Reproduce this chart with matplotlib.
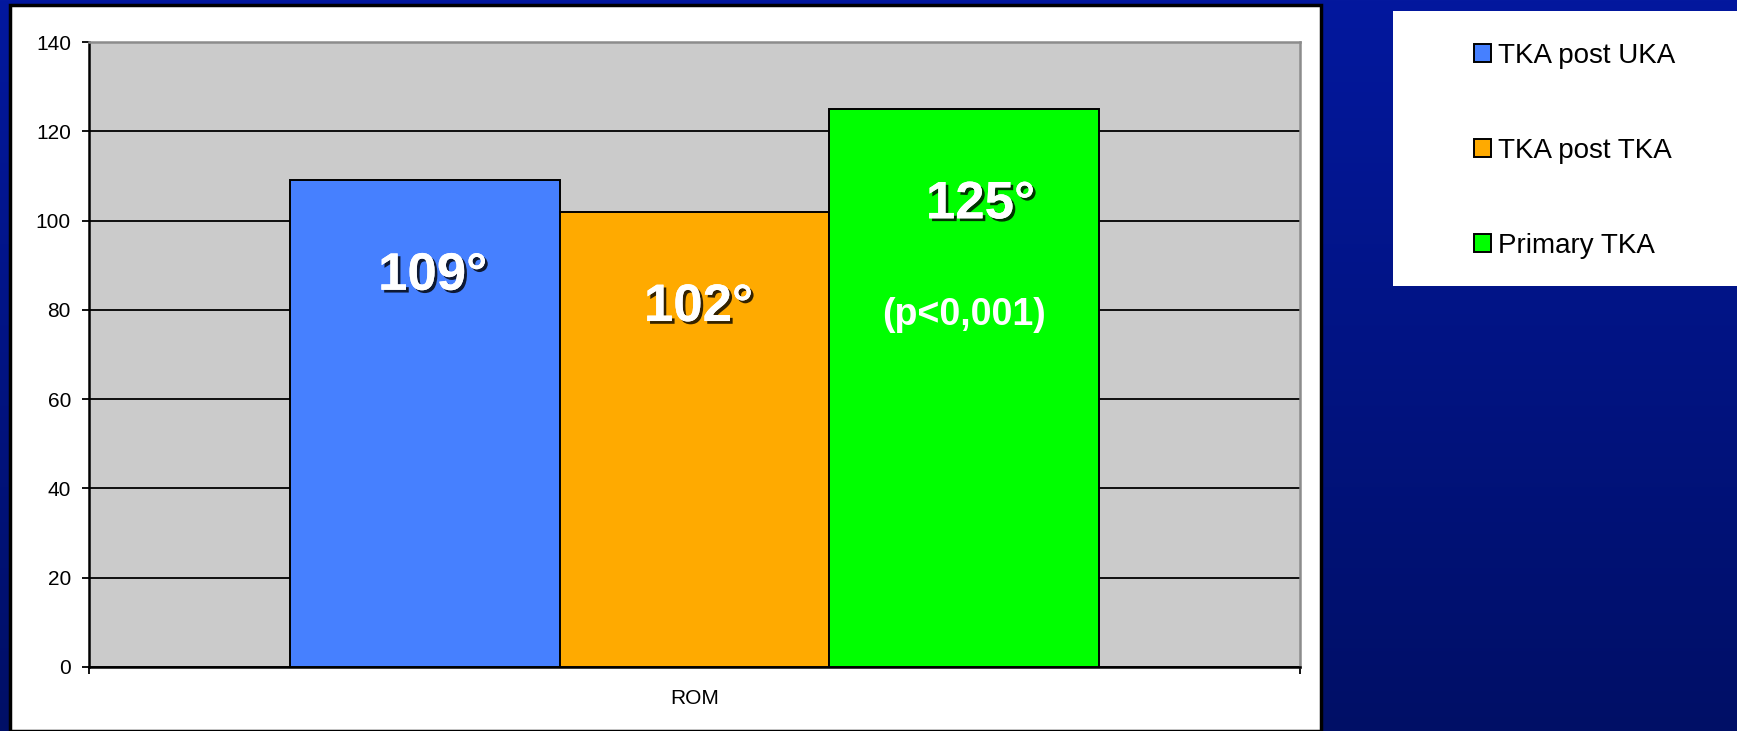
import numpy as np
import matplotlib
matplotlib.use("Agg")
import matplotlib.pyplot as plt
from matplotlib.patches import Rectangle
import matplotlib.patheffects as pe

plt.rcParams["font.family"] = ["Liberation Sans", "DejaVu Sans"]

# Data
category = "ROM"
groups = ["TKA post UKA", "TKA post TKA", "Primary TKA"]
rom_values = [109, 102, 125]
bar_colors = ["#4680FF", "#FFAA00", "#00FF00"]
p_value_text = "(p<0,001)"
y_ticks = [0, 20, 40, 60, 80, 100, 120, 140]

W, H = 1737, 731
fig = plt.figure(figsize=(W / 100, H / 100), dpi=100)

# Slide background: vertical blue gradient
bg = fig.add_axes([0, 0, 1, 1], zorder=-10)
grad = np.linspace(0, 1, 256).reshape(-1, 1)
bg_cmap = matplotlib.colors.LinearSegmentedColormap.from_list(
    "slide", ["#03189E", "#000F66"])
bg.imshow(grad, aspect="auto", cmap=bg_cmap, extent=[0, 1, 0, 1],
          origin="upper")
bg.set_axis_off()

def fx(px):
    return px / W

def fy(py):
    return 1 - py / H

# White chart panel
fig.patches.append(Rectangle((fx(10), fy(731)), fx(1321) - fx(10),
                             fy(5) - fy(731), transform=fig.transFigure,
                             facecolor="white", edgecolor="black",
                             linewidth=2.5, zorder=-5))
# White legend panel
fig.patches.append(Rectangle((fx(1393), fy(286)), fx(1740) - fx(1393),
                             fy(11) - fy(286), transform=fig.transFigure,
                             facecolor="white", edgecolor="none", zorder=-5))

ax = fig.add_axes([fx(89), fy(667), fx(1300) - fx(89), fy(42) - fy(667)])
ax.set_facecolor("#CBCBCB")

x = np.arange(len(rom_values)) - 1.0
bars = ax.bar(x, rom_values, width=1.0, color=bar_colors,
              edgecolor="black", linewidth=1.4, zorder=3)

half = 1.5 * 1210 / 809
ax.set_xlim(-half, half)
ax.set_ylim(0, 140)

ax.set_yticks(y_ticks)
ax.set_yticklabels([str(t) for t in y_ticks])
ax.yaxis.grid(True, color="black", linewidth=1.3, zorder=1)
ax.set_axisbelow(True)
# the top of the plot area keeps its grey frame line instead of a grid line
ax.yaxis.get_gridlines()[-1].set_visible(False)

ax.set_xticks([-half, half])
ax.set_xticklabels(["", ""])
ax.set_xticks([0], minor=True)
ax.set_xticklabels([category], minor=True)
ax.tick_params(axis="x", which="minor", length=0, pad=16, labelsize=15)
ax.tick_params(axis="x", which="major", length=5, width=1.3, direction="out")
ax.tick_params(axis="y", length=5, width=1.3, pad=8, labelsize=15,
               direction="out")

for side in ["left", "bottom"]:
    ax.spines[side].set_color("black")
    ax.spines[side].set_linewidth(1.8)
for side in ["top", "right"]:
    ax.spines[side].set_color("#8C8C8C")
    ax.spines[side].set_linewidth(1.8)

# Value labels inside the bars
shadow = [pe.withSimplePatchShadow(offset=(2, -2), shadow_rgbFace="black",
                                   alpha=0.8), pe.Normal()]
label_dx = [0.03, 0.015, 0.06]
for xi, v, dx in zip(x, rom_values, label_dx):
    ax.text(xi + dx, v - 24.5, f"{v}°", ha="center", va="baseline",
            color="white", fontsize=38, fontweight="bold",
            path_effects=shadow, zorder=5)
ax.text(x[2], 76.6, p_value_text, ha="center", va="baseline",
        color="white", fontsize=27, fontweight="bold", zorder=5)

# Legend
handles = [Rectangle((0, 0), 1, 1, facecolor=c, edgecolor="black",
                     linewidth=1.4) for c in bar_colors]
leg = fig.legend(handles, groups, loc="upper left",
                 bbox_to_anchor=(fx(1460), fy(29)), frameon=False,
                 fontsize=20, handlelength=0.6, handleheight=0.6,
                 handletextpad=0.25, labelspacing=2.48, borderpad=0)

fig.savefig("out.png", dpi=100)
